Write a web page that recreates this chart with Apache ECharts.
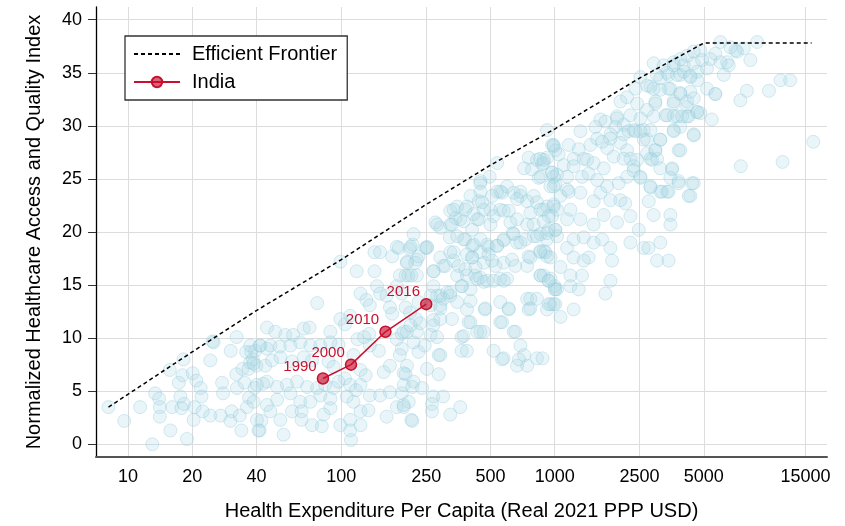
<!DOCTYPE html>
<html><head><meta charset="utf-8">
<script src="https://cdn.jsdelivr.net/npm/echarts@6/dist/echarts.min.js"></script>
<style>html,body{margin:0;padding:0;background:#fff}#c{width:845px;height:526px}</style>
</head><body><div id="c"></div>
<script>
const xTicks = [10,20,40,100,250,500,1000,2500,5000,15000];
const yTicks = [0,5,10,15,20,25,30,35,40];

const frontierSpend = [8.1,20,40,100,250,500,1000,2500,5000,16000];
const frontierHAQ   = [3.5,8.7,12.6,17.4,22.6,26.3,29.7,34.5,37.8,37.8];

const indiaYears = ['1990','2000','2010','2016'];
const indiaSpend = [82,111,161,250];
const indiaHAQ   = [6.2,7.5,10.6,13.2];

const countryObs = [
[8.1,3.5],[9.6,2.2],[11.4,3.5],[13,0],[13.4,4.8],[14,4.3],[14.1,3.5],[14.1,2.6],[15.7,7.0],[15.8,1.3],[16.1,3.5],[17.3,5.8],[17.6,4.5],[17.8,3.4],[18.2,8.0],[18.3,3.8],[18,6.5],[18.9,0.5],[20.1,6.7],[20.3,2.3],[20.5,3.5],[20.9,6.0],[21.9,5.3],[22.1,4.5],[22.4,3.1],[24.3,7.9],[24.3,2.7],[24.9,9.7],[27.2,2.7],[27.6,5.8],[27.9,4.8],[30.3,8.8],[30.2,2.2],[30.6,3.1],[32.3,10.1],[32.4,5.3],[32.2,6.6],[33.4,2.7],[34,1.3],[34.4,7.1],[35.2,5.8],[35.8,8.7],[36.1,3.5],[36.9,4.4],[37.4,7.7],[37.8,8.7],[38.5,8.0],[39.2,5.3],[40,7.4],[41.4,9.3],[42.2,2.2],[43,5.7],[41.4,1.3],
[25.2,9.6],[39.5,8.8],[36.7,7.1],[44.8,9.0],
[143,18.1],[152,18.1],[173,17.7],[182,18.6],[203,17.2],[209,18.4],[226,17.4],[216,18.8],[99,17.2],[118,16.3],[143,16.3],[200,15.9],[213,15.9],[226,15.9],[147,14.9],[123,14.2],[131,13.6],[136,13.1],[152,14.2],[163,14.0],[169,12.9],[173,12.3],[182,14.9],[192,14.2],[200,12.9],[210,12.4],[224,11.8],[230,13.4],[77,13.3],[99,11.8],[104,11.3],[110,12.1],[44.8,11.0],[49,10.6],[54.6,10.3],[59.4,10.3],[66.6,10.9],[71,11.0],[88.8,10.6],[119,9.9],[128,10.1],[135,10.4],[136,9.3],[182,9.9],[192,10.4],[203,10.6],[218,9.6],[226,10.6],
[37.4,9.3],[41.7,9.3],[46.5,9.3],[51.4,9.2],[57.7,9.3],[64.2,9.6],[71.6,9.3],[79.7,9.3],[88.8,9.6],[97,9.4],
[38.8,7.6],[44,7.4],[47.3,7.9],[51.8,8.2],[58.7,7.8],[66.6,8.2],[72.9,7.9],[87.1,7.8],[92,7.3],[114,8.4],[123,7.0],[130,6.5],
[158,6.8],[169,7.4],[196,6.7],[203,7.4],[218,5.9],
[40.2,5.6],[44.8,5.9],[50,5.4],[55.6,5.6],[62,5.9],[69.1,5.4],[77,5.3],[84,5.6],[92,5.3],[97,5.9],[104,6.2],[110,5.6],[117,5.1],[123,5.6],
[38.8,4.0],[44.8,3.7],[50,4.2],[57.7,4.8],[64.2,4.0],[71.6,4.0],[79.7,4.6],[88.8,4.3],[106,4.5],[114,4.0],[136,4.6],[152,4.6],[169,4.9],[192,4.8],[207,4.0],
[40.2,2.3],[46.5,3.1],[51.8,2.3],[58.7,3.1],[65.1,3.1],[65.1,2.3],[72.9,1.8],[82.6,2.8],[88.8,3.4],[99,1.8],[110,2.3],[123,3.1],[134,3.2],[163,2.6],[182,3.5],[196,3.5],[213,2.3],
[40.9,1.3],[53.6,0.9],[81,1.7],[110,1.3],[111,0.4],[123,1.8],
[150,8.8],[192,9.0],[230,8.7],[196,5.6],[218,19.8],[186,18.5],[252,18.5],
[972,28.2],[1007,27.7],[755,27.0],[826,26.8],[873,26.4],[921,27.0],[719,26.0],[783,25.9],[859,25.2],[972,25.6],[1026,25.4],[537,26.5],[496,25.2],[449,24.8],[449,23.8],
[403,23.4],[441,22.9],[500,22.1],[537,23.8],[567,23.7],
[598,24.3],[642,23.7],[691,23.4],[743,22.9],[797,23.4],[826,22.8],[921,22.4],[989,22.6],[1026,22.1],
[324,22.0],[349,22.4],[388,22.4],[433,21.2],[465,22.1],[517,21.5],[556,22.1],[609,22.0],
[343,21.3],[374,21.0],[441,21.2],[500,20.7],[620,20.9],[666,21.2],[743,20.7],[797,20.7],[888,21.0],[972,21.5],[1007,20.2],
[324,20.7],[291,20.4],[276,20.9],
[322,19.5],[349,19.6],[381,19.3],[411,18.7],[449,19.3],[490,18.6],[537,18.7],[576,19.3],[636,19.9],[666,19.0],[730,19.3],[797,19.6],[859,19.8],[921,19.3],[1026,19.6],
[211,18.6],[230,17.7],[252,18.6],[291,17.6],[324,18.1],[336,17.3],[355,16.8],[388,17.9],[411,17.6],[449,18.1],[465,17.1],[490,17.9],[527,16.8],[576,17.1],[654,16.8],[743,16.8],[755,17.7],[888,18.2],[921,17.7],
[203,17.1],[222,17.1],[270,16.3],[300,16.8],[349,15.9],[388,15.9],[424,15.9],[465,15.3],[556,15.6],[598,15.6],[859,15.9],[937,15.4],
[188,15.9],[206,15.9],[270,14.9],[291,14.0],[324,14.3],[366,14.9],[403,14.6],[433,15.6],[482,15.4],
[556,13.4],[609,12.7],[743,13.7],[826,13.7],[755,12.7],[921,12.7],[1007,14.6],[1007,13.2],
[281,14.0],[300,13.7],[324,14.0],[349,13.4],[388,12.7],[470,12.7],[262,13.1],[291,13.1],
[270,11.7],[330,11.8],[395,11.5],[433,10.6],[465,10.6],[556,11.5],[642,10.6],[691,9.3],[719,8.4],[743,7.4],[666,7.4],[826,8.1],[576,8.1],[517,8.8],[366,10.1],[366,8.8],[388,8.8],[291,8.4],
[196,10.6],[188,8.4],[211,11.2],[234,11.4],[270,11.2],[246,9.3],[262,10.3],[281,10.1],[286,8.4],[252,7.1],[286,6.6],[200,6.6],[215,5.4],[239,5.3],[270,4.5],[300,4.5],[361,3.5],[266,3.8],[266,3.1],[324,2.8],[215,2.2],[196,3.7],
[567,8.0],[680,8.0],[654,10.6],
[448,24.6],[556,23.8],[691,23.8],[841,25.1],[1007,24.5],[1143,24.0],
[336,22.1],[381,22.1],[417,21.7],[457,22.8],[509,23.4],[577,22.0],[666,23.1],[769,21.8],[857,22.1],[1064,23.4],
[281,20.7],[330,20.7],[361,21.2],[410,20.2],[642,19.8],[827,19.6],[937,20.2],[1143,21.2],
[374,19.3],[417,18.8],[482,18.8],[537,18.7],[577,19.2],[691,19.0],[857,18.1],[955,17.6],[336,18.1],[410,17.6],[509,17.3],[631,17.4],[769,17.6],
[248,18.5],[307,16.8],[381,16.5],[425,16.7],[271,16.3],[448,15.7],[518,15.4],[577,15.4],[857,15.9],[955,15.6],[1064,16.7],
[313,14.3],[368,14.9],[262,14.0],[291,12.8],[403,13.5],[473,12.8],[609,12.8],[769,13.7],[955,13.2],[769,12.8],
[291,11.8],[403,11.5],[567,11.5],[448,10.6],[374,10.2],
[2911,35.9],[3243,35.7],[3614,36.0],[4027,35.7],[4487,35.9],[3020,34.8],[3365,35.0],[3881,34.8],[4325,34.7],[4656,34.3],[2811,33.7],[3127,33.4],[3486,33.5],[3881,33.1],[4325,33.2],[2966,32.3],[3614,32.3],[4176,31.8],[4656,31.3],[2911,30.9],[3304,31.0],[3749,30.9],[4176,30.9],[2711,31.5],
[2390,33.5],[2523,34.6],[2185,32.7],[2434,32.1],[2033,32.3],[1960,30.9],[2264,31.0],[2523,30.7],[2345,29.6],[2613,29.6],[2106,30.1],[1925,29.9],
[1638,30.6],[1729,30.4],[1825,29.2],[1960,30.7],[2106,29.2],[2222,29.5],[2390,29.5],[2523,29.5],[2711,28.7],[3127,28.7],[3614,29.6],[3881,29.9],[4487,29.2],[1552,29.9],[1320,29.5],
[989,28.2],[1164,28.2],[1297,27.8],[1469,28.2],[1581,28.8],[1668,28.5],[1762,27.9],[1825,28.8],[2033,28.4],[2185,27.7],[2264,26.9],[2434,26.8],[2711,27.4],[2966,27.7],[3127,28.7],[3811,27.7],[1044,27.3],[1227,26.9],[1368,26.9],[1523,26.5],[1698,26.0],[1892,27.1],[2106,26.9],[2345,26.2],[2811,26.9],[3020,26.9],[3550,26.0],[888,26.5],[855,26.9],[1102,26.3],[1227,26.2],[1419,26.8],
[989,25.2],[1143,25.2],[1343,25.2],[1443,25.5],[1581,24.9],[1762,24.3],[1995,24.6],[2185,25.2],[2345,25.8],[2523,25.2],[2811,24.3],[3127,23.8],[3365,23.8],[3811,24.8],[4325,23.4],[4487,24.6],[955,24.3],[1164,23.8],[1320,23.7],[1523,22.9],[1638,23.7],[1825,23.0],[2033,23.0],[2143,22.7],[989,22.4],[1185,22.1],[1320,21.2],[1523,20.7],[1698,21.6],[1960,20.9],
[2264,21.5],[2478,20.2],[2911,21.6],[3486,21.6],[3486,20.7],[1227,19.3],[1368,19.5],[1523,19.0],[1668,19.3],[1825,18.5],[1858,17.3],[1143,18.5],[1227,17.6],[1443,17.6],[1368,17.3],[2264,19.0],[2613,18.5],[2755,18.5],[3127,19.0],[3020,17.3],[3420,17.3],
[1825,15.4],[1729,14.2],[1227,12.7],[1065,12.0],[1185,15.9],[1343,15.9],[1185,14.9],[1297,14.6],[1000,14.9],[1000,14.6],[989,13.2],
[921,29.6],[989,28.1],[888,26.8],[972,25.6],[989,24.3],[888,22.1],[937,21.5],[1007,20.2],[921,19.9],
[855,18.2],[905,18.1],[888,15.9],[937,15.4],[1026,14.6],[937,13.2],[877,8.1],
[5983,37.9],[6664,37.4],[7166,37.0],[7700,37.3],[8265,36.2],[8891,37.9],[6433,36.0],[6542,35.7],[7036,37.1],
[11450,34.3],[12700,34.3],[10100,33.3],[7960,33.3],[7420,32.4],[5665,33.0],[5450,30.6],[16300,28.5],[11700,26.6],[7450,26.2],
[2711,33.8],[2911,33.5],[3127,34.5],[3420,34.8],[3749,34.8],[4027,35.1],[4325,34.6],[4656,35.1],[3614,35.7],[3881,36.3],[4176,36.6],[4487,37.0],[4820,37.1],[4909,36.2],[5179,35.4],[5370,36.3],[5665,36.8],[5983,36.0],[6200,34.8],[2966,32.1],[3420,33.5],[3614,32.1],[3881,33.0],[4176,32.3],[4487,32.6],[4656,31.3],[4820,31.2],[5179,33.5],[5665,33.0],[3365,31.0],[3614,30.9],[3958,30.9],[4248,30.9],[2811,29.6],[2613,28.7],[3614,29.5],[4487,29.1],[3881,27.7],[2966,27.7],[2862,26.8],[3127,26.0],[3550,25.9],[3486,25.1],[3811,24.6],[4406,24.6],[2811,24.2],[3186,23.8],[3420,23.8],[4248,23.4],[2760,22.9],[2523,25.1]
];

const FONT = "'Liberation Sans', Arial, Helvetica, sans-serif";
const chart = echarts.init(document.getElementById('c'), null, {renderer: 'canvas'});

const frontierData = frontierSpend.map((v, i) => [v, frontierHAQ[i]]);
const indiaData = indiaSpend.map((v, i) => [v, indiaHAQ[i]]);

chart.setOption({
  animation: false,
  backgroundColor: '#fff',
  textStyle: {fontFamily: FONT},
  grid: {left: 96, right: 18, top: 7, bottom: 67, containLabel: false},
  legend: {
    data: ['Efficient Frontier', 'India'],
    orient: 'vertical', left: 125, top: 36,
    padding: [8, 10, 8, 8], itemGap: 8, itemWidth: 46, itemHeight: 13,
    borderColor: '#333', borderWidth: 1.3, backgroundColor: '#fff', borderRadius: 0,
    selectedMode: false,
    textStyle: {fontSize: 20, color: '#000', fontFamily: FONT, padding: [0, 0, 0, 7]}
  },
  xAxis: {
    type: 'log', logBase: 10, min: 7.08, max: 18900,
    name: 'Health Expenditure Per Capita (Real 2021 PPP USD)',
    nameLocation: 'middle', nameGap: 44,
    nameTextStyle: {fontSize: 20, color: '#000', fontFamily: FONT},
    axisLine: {show: true, onZero: false, lineStyle: {color: '#555', width: 2}},
    axisTick: {show: false, customValues: xTicks},
    axisLabel: {customValues: xTicks, formatter: v => String(Math.round(v)), fontSize: 18, color: '#000', margin: 11, fontFamily: FONT},
    splitLine: {show: true, lineStyle: {color: '#dcdcdc', width: 1}},
    minorTick: {show: false}, minorSplitLine: {show: false}
  },
  yAxis: {
    type: 'value', min: -1.2, max: 41.2,
    name: 'Normalized Healthcare Access and Quality Index',
    nameLocation: 'middle', nameGap: 52,
    nameTextStyle: {fontSize: 20, color: '#000', fontFamily: FONT},
    axisLine: {show: true, onZero: false, lineStyle: {color: '#000', width: 1.3}},
    axisTick: {show: true, length: 8, customValues: yTicks, lineStyle: {color: '#333', width: 1}},
    axisLabel: {customValues: yTicks, fontSize: 18, color: '#000', margin: 14, fontFamily: FONT},
    splitLine: {show: true, lineStyle: {color: '#dcdcdc', width: 1}}
  },
  series: [
    {
      name: 'Countries', type: 'scatter', data: countryObs, symbol: 'circle', symbolSize: 13,
      itemStyle: {color: 'rgba(173,216,230,0.33)', borderColor: 'rgba(140,200,220,0.45)', borderWidth: 1},
      silent: true, z: 1
    },
    {
      name: 'Efficient Frontier', type: 'line', data: frontierData, symbol: 'none', showSymbol: false,
      lineStyle: {color: '#000', width: 1.5, type: [4, 3]},
      itemStyle: {color: 'rgba(0,0,0,0)', borderColor: 'rgba(0,0,0,0)', borderWidth: 0},
      silent: true, z: 3
    },
    {
      name: 'India', type: 'line', data: indiaData, symbol: 'circle', symbolSize: 11,
      lineStyle: {color: '#c8102e', width: 1.5},
      itemStyle: {color: 'rgba(200,16,46,0.65)', borderColor: '#c8102e', borderWidth: 1.5},
      label: {show: true, position: 'left', distance: 0, offset: [0, -12],
        formatter: p => indiaYears[p.dataIndex], color: '#c8102e', fontSize: 15, fontFamily: FONT},
      silent: true, z: 4
    }
  ]
});
</script></body></html>
